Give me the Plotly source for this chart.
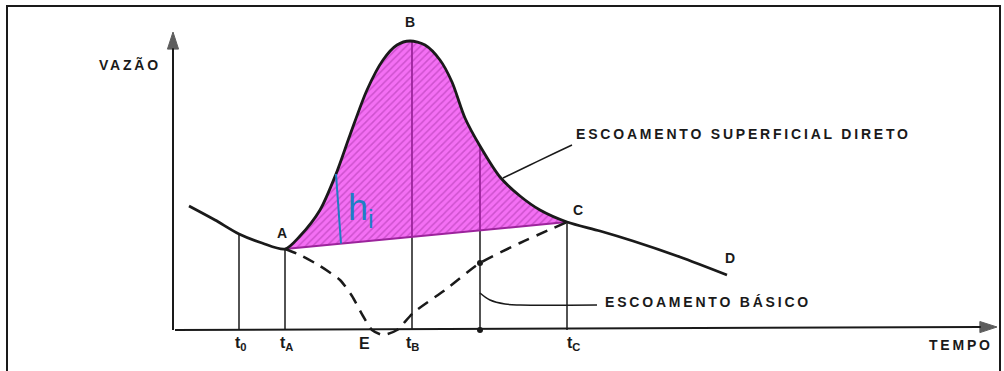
import numpy as np
import plotly.graph_objects as go

# ---------------- data (time t, discharge Q; arbitrary units) ----------------
# total hydrograph: recession before A, rising limb A->B, falling limb B->C, recession C->D
hyd_t = [1.6, 4.2, 6.6, 8.9, 11.2,
         12.7, 14.7, 16.3, 17.7, 19.4, 21.0, 22.4, 23.7,
         25.2, 26.7, 27.9, 29.2, 30.7, 32.7, 34.7, 36.7, 39.4,
         42.7, 46.0, 50.7, 55.4]
hyd_q = [12.4, 11.0, 9.6, 8.7, 8.1,
         9.4, 12.0, 15.6, 19.5, 24.0, 27.0, 28.5, 28.9,
         28.5, 27.0, 24.8, 21.2, 18.4, 15.3, 13.4, 12.0, 10.8,
         9.9, 8.9, 7.3, 5.5]
idx_A, idx_C = 4, 21

# base flow (dashed) between A and C
base_t = [11.2, 12.7, 14.7, 16.7, 17.9, 19.0, 19.9, 21.0, 22.4, 24.0, 27.2, 30.7, 34.7, 39.4]
base_q = [8.1, 7.5, 6.4, 5.0, 3.4, 1.4, 0.0, -0.5, 0.0, 1.7, 4.0, 6.7, 8.7, 10.8]

# vertical reference times
tick_t = [6.8, 11.3, 19.1, 23.9, 40.0]
tick_labels = ["t<sub>0</sub>", "t<sub>A</sub>", "E", "t<sub>B</sub>", "t<sub>C</sub>"]
vert_t = [6.6, 11.2, 23.9, 30.7, 39.4]

# axes extents (with arrows)
xaxis_t = [0.2, 82.4]
xaxis_q = [0.0, 0.3]
yaxis_t = [0.0, 0.0]
yaxis_q = [0.0, 29.8]

# h_i marker
hi_t = [16.3, 16.8]

# leader lines for annotations
lead_base_t = [30.7, 31.7, 33.2, 34.7, 42.4]
lead_base_q = [3.7, 3.0, 2.6, 2.5, 2.5]
lead_sup_t = [33.0, 35.7, 38.2, 39.9]
lead_sup_q = [15.2, 16.5, 17.7, 18.5]

point_labels = ["A", "B", "C", "D"]
point_label_t = [10.9, 23.7, 40.5, 55.7]
point_label_q = [9.7, 30.8, 12.0, 7.2]

# ---------------------------------------------------------------------------
hyd_t_a = np.array(hyd_t)
hyd_q_a = np.array(hyd_q)
tA, qA = hyd_t[idx_A], hyd_q[idx_A]
tC, qC = hyd_t[idx_C], hyd_q[idx_C]


def sep_line(t):
    return qA + (qC - qA) * (np.asarray(t) - tA) / (tC - tA)


def hyd(t):
    return np.interp(t, hyd_t_a, hyd_q_a)


MAG_BG = "#f46ff4"
MAG_FG = "#a634a6"
MAG_EDGE = "#9c249c"
INK = "#1a1a1a"

fig = go.Figure()

# direct runoff area (hatched magenta)
poly_t = hyd_t[idx_A:idx_C + 1] + [tA]
poly_q = hyd_q[idx_A:idx_C + 1] + [qA]
fig.add_trace(go.Scatter(
    x=poly_t, y=poly_q, mode="lines", fill="toself",
    line=dict(width=0, color=MAG_BG),
    fillcolor=MAG_BG,
    fillpattern=dict(shape="/", fgcolor=MAG_FG, bgcolor=MAG_BG, size=5, solidity=0.3),
    hoverinfo="skip", showlegend=False))

# axes drawn as lines with arrowheads
for xs, ys in ((xaxis_t, xaxis_q), (yaxis_t, yaxis_q)):
    fig.add_trace(go.Scatter(x=xs, y=ys, mode="lines+markers",
                             line=dict(color=INK, width=2),
                             marker=dict(symbol="arrow", size=[0, 18], color=INK, angleref="previous",
                                         line=dict(color=INK, width=1)),
                             showlegend=False, hoverinfo="skip"))

# vertical lines: black below separation line, purple inside the area
for t in vert_t:
    top = float(hyd(t))
    if tA < t < tC:
        mid = float(sep_line(t))
        fig.add_trace(go.Scatter(x=[t, t], y=[0, mid], mode="lines",
                                 line=dict(color=INK, width=1.5), showlegend=False, hoverinfo="skip"))
        fig.add_trace(go.Scatter(x=[t, t], y=[mid, top], mode="lines",
                                 line=dict(color=MAG_EDGE, width=1.8), showlegend=False, hoverinfo="skip"))
    else:
        fig.add_trace(go.Scatter(x=[t, t], y=[0, top], mode="lines",
                                 line=dict(color=INK, width=1.5), showlegend=False, hoverinfo="skip"))

# separation line A-C
fig.add_trace(go.Scatter(x=[tA, tC], y=[qA, qC], mode="lines",
                         line=dict(color=MAG_EDGE, width=2), showlegend=False, hoverinfo="skip"))

# base flow dashed
fig.add_trace(go.Scatter(x=base_t, y=base_q, mode="lines",
                         line=dict(color=INK, width=2.5, dash="12px,8px", shape="spline", smoothing=0.6),
                         showlegend=False, hoverinfo="skip"))

# total hydrograph
fig.add_trace(go.Scatter(x=hyd_t, y=hyd_q, mode="lines",
                         line=dict(color=INK, width=2.8, shape="spline", smoothing=0.8),
                         showlegend=False, hoverinfo="skip"))

# leader lines
fig.add_trace(go.Scatter(x=lead_base_t, y=lead_base_q, mode="lines",
                         line=dict(color=INK, width=1.5, shape="spline"), showlegend=False, hoverinfo="skip"))
fig.add_trace(go.Scatter(x=lead_sup_t, y=lead_sup_q, mode="lines",
                         line=dict(color=INK, width=1.5, shape="spline"), showlegend=False, hoverinfo="skip"))

# dots
t_dot = vert_t[3]
fig.add_trace(go.Scatter(x=[t_dot, t_dot], y=[0, float(np.interp(t_dot, base_t, base_q))], mode="markers",
                         marker=dict(color=INK, size=6), showlegend=False, hoverinfo="skip"))

# h_i marker line
fig.add_trace(go.Scatter(x=hi_t, y=[float(hyd(hi_t[0])), float(sep_line(hi_t[1]))], mode="lines",
                         line=dict(color="#1f7fc4", width=2), showlegend=False, hoverinfo="skip"))

LS = "letter-spacing:2.8px"
FONT = dict(family="Liberation Sans, Arial, sans-serif", size=14, color=INK, weight="bold")

ann = []
ann.append(dict(x=-4.3, y=26.6, text=f'<span style="{LS}">VAZÃO</span>', showarrow=False, font=FONT))
ann.append(dict(x=78.8, y=-1.5, text=f'<span style="{LS}">TEMPO</span>', showarrow=False, font=FONT))
ann.append(dict(x=40.1, y=19.6, xanchor="left",
                text=f'<span style="{LS}">ESCOAMENTO SUPERFICIAL DIRETO</span>', showarrow=False, font=FONT))
ann.append(dict(x=43.0, y=2.8, xanchor="left",
                text=f'<span style="{LS}">ESCOAMENTO BÁSICO</span>', showarrow=False, font=FONT))

for lab, t, q in zip(point_labels, point_label_t, point_label_q):
    ann.append(dict(x=t, y=q, text=lab, showarrow=False, font=FONT))
for lab, t in zip(tick_labels, tick_t):
    ann.append(dict(x=t, y=-1.3, text=lab, showarrow=False,
                    font=dict(family="Liberation Sans, Arial, sans-serif", size=16, color=INK, weight="bold")))

ann.append(dict(x=17.3, y=12.0, xanchor="left", text="h<sub>i</sub>", showarrow=False,
                font=dict(family="Liberation Sans, Arial, sans-serif", size=36, color="#1f7fc4")))

for a in ann:
    a["xref"] = "x"
    a["yref"] = "y"

fig.update_layout(
    width=1004, height=371,
    margin=dict(l=0, r=0, t=0, b=0),
    paper_bgcolor="white", plot_bgcolor="white",
    xaxis=dict(range=[-17.3, 83.1], visible=False, fixedrange=True),
    yaxis=dict(range=[-4.1, 33.0], visible=False, fixedrange=True),
    annotations=ann,
    shapes=[dict(type="rect", xref="paper", yref="paper",
                 x0=7 / 1004, x1=1000 / 1004, y0=-0.05, y1=1 - 6 / 371,
                 line=dict(color=INK, width=2))],
)

fig.write_html("out.html", config={"displayModeBar": False},
               post_script="document.body.style.margin='0';document.body.style.overflow='hidden';")
